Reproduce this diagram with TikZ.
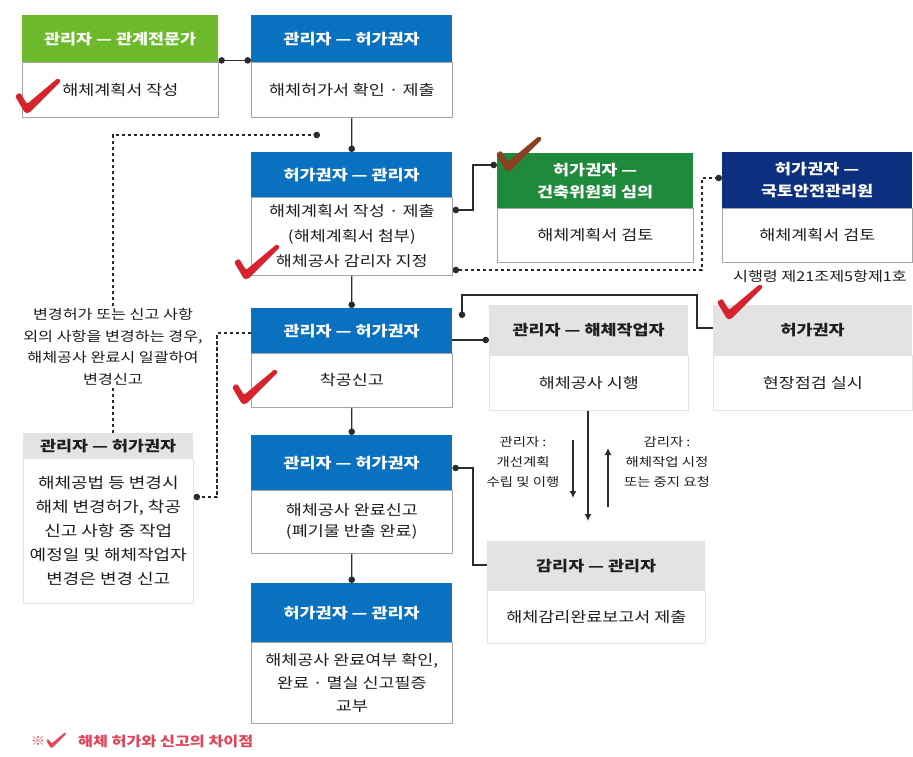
\documentclass[tikz,border=0pt]{standalone}
\usepackage{fontspec}
\setmainfont{Noto Sans CJK KR}[FakeStretch=1.2]
\usetikzlibrary{arrows.meta}

\definecolor{limehd}{HTML}{6CBA2C}
\definecolor{bluehd}{HTML}{0A70C0}
\definecolor{greenhd}{HTML}{1F8A3B}
\definecolor{navyhd}{HTML}{0C2F80}
\definecolor{grayhd}{HTML}{E3E3E3}
\definecolor{boxline}{HTML}{A6A6A6}
\definecolor{bodytext}{HTML}{1E1E1E}
\definecolor{linec}{HTML}{2B2B2B}
\definecolor{tickred}{HTML}{D7232E}
\definecolor{tickbrown}{HTML}{8C4022}
\definecolor{notered}{HTML}{E2455A}

\newcommand\hdfont{\fontsize{14.5}{22}\selectfont\bfseries}
\newcommand\bdfont{\fontsize{14.5}{24}\selectfont}

\tikzset{
  hd/.style={anchor=north west, inner sep=0pt, align=center, text=white, font=\hdfont},
  bd/.style={anchor=north west, inner sep=0pt, align=center, draw=boxline,
             line width=0.6pt, fill=white, text=bodytext, font=\bdfont},
  grayhead/.style={hd, fill=grayhd, text=bodytext},
  conn/.style={draw=linec, line width=1.1pt, >={Circle[length=6.5pt]}},
  dconn/.style={conn, dash pattern=on 3.5pt off 2.5pt},
  sconn/.style={draw=linec, line width=1.1pt, >={Latex[length=7pt,width=7pt]}},
  lbl/.style={inner sep=2pt, align=center, text=bodytext,
              font=\fontsize{13.5}{21.5}\selectfont},
  smalllbl/.style={inner sep=1pt, align=center, text=bodytext,
              font=\fontsize{12}{20}\selectfont},
  tick/.pic={\path[pic actions, rounded corners=1.5pt]
      (0,18) -- (5,14.5) -- (12,26) -- (43,0) -- (46,3) -- (14,35) -- (10,35) -- cycle;},
}

\begin{document}
\begin{tikzpicture}[x=1pt, y=-1pt]
\useasboundingbox[fill=white] (0,0) rectangle (913,756);

% ---- row 1
\node[hd, fill=limehd, minimum width=196, minimum height=47] (b1h) at (22,15) {관리자 — 관계전문가};
\node[bd, minimum width=196, minimum height=55] (b1b) at (22,62) {해체계획서 작성};

\node[hd, fill=bluehd, minimum width=201, minimum height=47] (b2h) at (251,15) {관리자 — 허가권자};
\node[bd, minimum width=201, minimum height=55] (b2b) at (251,62) {해체허가서 확인 · 제출};

% ---- row 2
\node[hd, fill=bluehd, minimum width=201, minimum height=45] (b3h) at (251,152) {허가권자 — 관리자};
\node[bd, minimum width=201, minimum height=78, font=\fontsize{14.5}{25}\selectfont] (b3b) at (251,197)
  {해체계획서 작성 · 제출\\(해체계획서 첨부)\\해체공사 감리자 지정};

\node[hd, fill=greenhd, minimum width=196, minimum height=55] (b4h) at (497,153) {허가권자 —\\건축위원회 심의};
\node[bd, minimum width=196, minimum height=54] (b4b) at (497,208) {해체계획서 검토};

\node[hd, fill=navyhd, minimum width=190, minimum height=56] (b5h) at (722,152) {허가권자 —\\국토안전관리원};
\node[bd, minimum width=190, minimum height=54] (b5b) at (722,208) {해체계획서 검토};
\node[inner sep=0pt, text=bodytext, font=\fontsize{13.5}{15}\selectfont] (b5n) at (820,276) {시행령 제21조제5항제1호};

% ---- row 3
\node[hd, fill=bluehd, minimum width=201, minimum height=45] (b6h) at (251,308) {관리자 — 허가권자};
\node[bd, minimum width=201, minimum height=54] (b6b) at (251,353) {착공신고};

\node[grayhead, minimum width=199, minimum height=50] (b7h) at (489,305) {관리자 — 해체작업자};
\node[bd, draw=grayhd, minimum width=199, minimum height=55] (b7b) at (489,355) {해체공사 시행};

\node[grayhead, minimum width=199, minimum height=50] (b8h) at (713,305) {허가권자};
\node[bd, draw=grayhd, minimum width=199, minimum height=55] (b8b) at (713,355) {현장점검 실시};

% ---- row 4
\node[hd, fill=bluehd, minimum width=201, minimum height=55] (b9h) at (251,435) {관리자 — 허가권자};
\node[bd, minimum width=201, minimum height=63, font=\fontsize{14.5}{21}\selectfont] (b9b) at (251,490)
  {해체공사 완료신고\\(폐기물 반출 완료)};

\node[grayhead, minimum width=170, minimum height=25] (b12h) at (23,433) {관리자 — 허가권자};
\node[bd, draw=grayhd, minimum width=170, minimum height=145, font=\fontsize{15}{24}\selectfont] (b12b) at (23,458)
  {해체공법 등 변경시\\해체 변경허가, 착공\\신고 사항 중 작업\\예정일 및 해체작업자\\변경은 변경 신고};

\node[grayhead, minimum width=218, minimum height=49] (b10h) at (487,541) {감리자 — 관리자};
\node[bd, draw=grayhd, minimum width=218, minimum height=53] (b10b) at (487,590) {해체감리완료보고서 제출};

% ---- row 5
\node[hd, fill=bluehd, minimum width=201, minimum height=59] (b11h) at (251,583) {허가권자 — 관리자};
\node[bd, minimum width=201, minimum height=81, font=\fontsize{14.5}{23}\selectfont] (b11b) at (251,642)
  {해체공사 완료여부 확인,\\완료 · 멸실 신고필증\\교부};

% ---- free labels
\node[lbl] (lt) at (113,347) {변경허가 또는 신고 사항\\외의 사항을 변경하는 경우,\\해체공사 완료시 일괄하여\\변경신고};
\node[smalllbl] (lblL) at (523,462) {관리자 :\\개선계획\\수립 및 이행};
\node[smalllbl] (lblR) at (667,462) {감리자 :\\해체작업 시정\\또는 중지 요청};

% ---- connectors
\draw[conn, <->] ([yshift=2pt]b1h.south east) -- ([yshift=2pt]b2h.south west);
\draw[conn, ->] (b2b.south) -- (b3h.north);
\draw[conn, <->] (b3b.east |- 0,210) -- (473,210) |- (b4h.west |- 0,165);
\draw[dconn, <->] (b3b.east |- 0,270) -| (702,178) -- (b5h.west |- 0,178);
\draw[conn, ->] (b3b.south) -- (b6h.north);

\coordinate (loopend) at (320,135);
\draw[dconn] (b12h.north -| lt.south) -- (lt.south);
\draw[dconn, ->] (lt.north) -- (113,135) -- (loopend);

\draw[conn, ->] (b6h.east |- 0,340) -- (b7h.west |- 0,340);
\coordinate (b6in) at (462,318);
\draw[conn, ->] (b8h.west |- 0,328) -| (697,295) -| (b6in);
\draw[dconn, ->] (b6h.west |- 0,333) -| (217,497) -- (b12b.east |- 0,497);
\draw[conn, ->] (b6b.south) -- (b9h.north);

\draw[sconn, ->, shorten >=20pt] (b7b.south -| 588,0) -- (b10h.north -| 588,0);
\coordinate (a1s) at (573,440);
\coordinate (a1e) at (573,498);
\coordinate (a2s) at (608,507);
\coordinate (a2e) at (608,448);
\draw[sconn, ->] (a1s) -- (a1e);
\draw[sconn, ->] (a2s) -- (a2e);

\draw[conn, ->] (b10h.west |- 0,565) -| (473,468) -- (b9h.east |- 0,468);
\draw[conn, ->] (b9b.south) -- (b11h.north);

% ---- check marks
\pic[fill=tickred] at (15,78) {tick};
\pic[fill=tickred] at (234,244) {tick};
\pic[fill=tickbrown] at (496,136) {tick};
\pic[fill=tickred] at (232,369) {tick};
\pic[fill=tickred] at (717,284) {tick};

% ---- note
\node[inner sep=0pt, text=notered, font=\fontsize{12}{14}\selectfont] (n1) at (38,741) {※};
\pic[fill=notered, scale=0.45] at (46,732) {tick};
\node[anchor=west, inner sep=0pt, text=notered, font=\fontsize{13.5}{16}\selectfont\bfseries] (n2) at (78,741) {해체 허가와 신고의 차이점};
\end{tikzpicture}
\end{document}
